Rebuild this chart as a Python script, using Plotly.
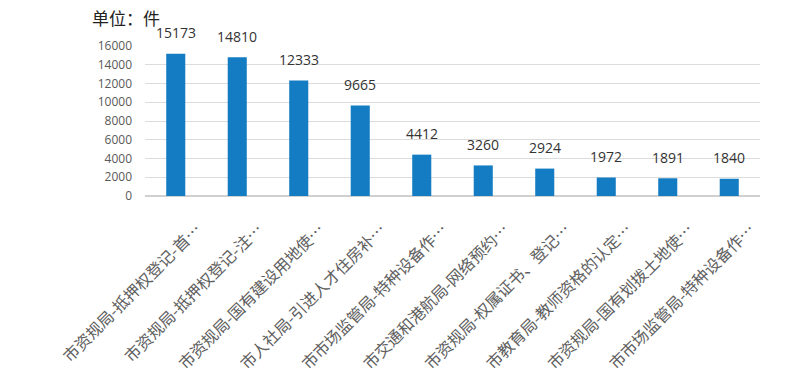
import plotly.graph_objects as go

categories = [
    "市资规局-抵押权登记-首…",
    "市资规局-抵押权登记-注…",
    "市资规局-国有建设用地使…",
    "市人社局-引进人才住房补…",
    "市市场监管局-特种设备作…",
    "市交通和港航局-网络预约…",
    "市资规局-权属证书、登记…",
    "市教育局-教师资格的认定…",
    "市资规局-国有划拨土地使…",
    "市市场监管局-特种设备作…",
]
values = [15173, 14810, 12333, 9665, 4412, 3260, 2924, 1972, 1891, 1840]
y_ticks = [0, 2000, 4000, 6000, 8000, 10000, 12000, 14000, 16000]

positions = list(range(len(categories)))

fig = go.Figure()
fig.add_trace(go.Bar(
    x=positions,
    y=values,
    marker=dict(color="#137cc2", line=dict(width=0)),
    width=0.31,
    cliponaxis=False,
))

annotations = [dict(
    x=p, y=v, xref="x", yref="y",
    text=str(v), showarrow=False,
    yanchor="middle", xanchor="center", yshift=21,
    font=dict(family="Open Sans, Liberation Sans, sans-serif", size=14, color="#333333"),
) for p, v in zip(positions, values)]

annotations.append(dict(
    text="单位：件",
    xref="paper", yref="paper",
    x=-0.09, y=1.0, yshift=29,
    xanchor="left", yanchor="middle",
    showarrow=False,
    font=dict(family="Noto Sans CJK SC", size=17, color="#222222"),
))

fig.update_layout(
    width=797,
    height=378,
    margin=dict(l=145, r=37, t=46, b=182),
    paper_bgcolor="white",
    plot_bgcolor="white",
    showlegend=False,
    xaxis=dict(
        tickmode="array",
        tickvals=positions,
        ticktext=categories,
        tickangle=-45,
        tickfont=dict(family="Noto Sans CJK SC", size=16, color="#606060"),
        ticklabelstandoff=20,
        ticklabelshift=21,
        automargin=False,
        range=[-0.5, len(categories) - 0.5],
        showgrid=False,
        showline=False,
        zeroline=False,
        ticks="",
    ),
    yaxis=dict(
        range=[0, 16000],
        tickmode="array",
        tickvals=y_ticks,
        ticktext=[str(t) for t in y_ticks],
        tickfont=dict(family="Open Sans, Liberation Sans, sans-serif", size=12, color="#595959"),
        ticklabelstandoff=12,
        automargin=False,
        gridcolor="#dcdcdc",
        gridwidth=1,
        zeroline=True,
        zerolinecolor="#d0d0d0",
        showline=False,
        ticks="",
    ),
    annotations=annotations,
)

fig.write_html("out.html")
